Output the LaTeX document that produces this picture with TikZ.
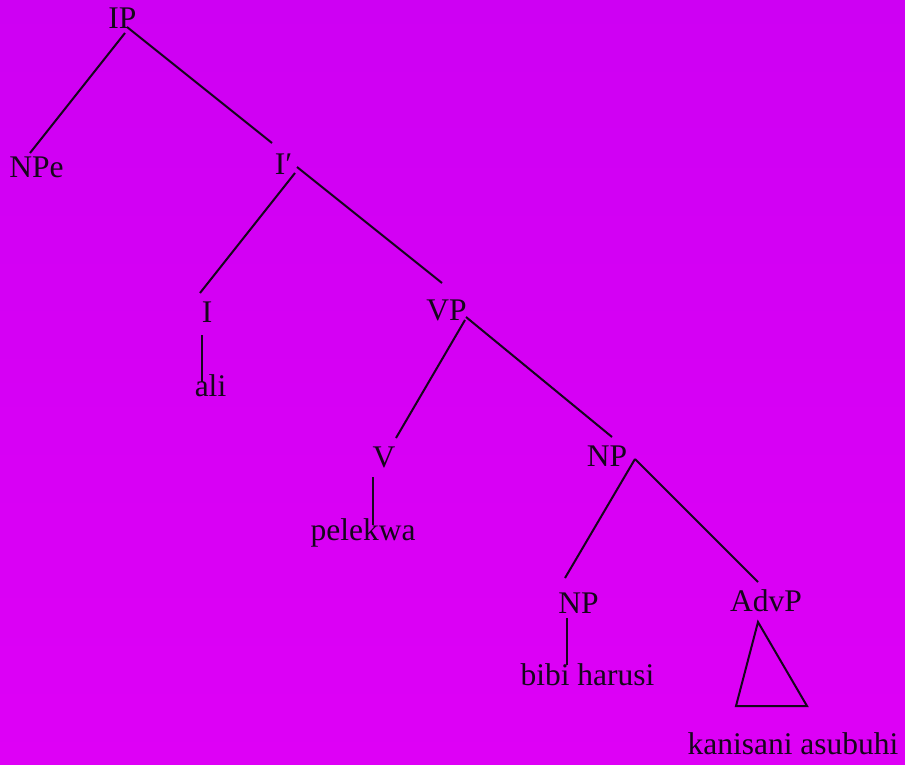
\documentclass[tikz,border=0pt]{standalone}
\usepackage{fontspec}
\setmainfont{Liberation Serif}
\usetikzlibrary{calc}
\definecolor{bgtop}{RGB}{206,0,243}
\definecolor{bgbot}{RGB}{222,0,246}
\definecolor{ink}{RGB}{22,6,28}
\begin{document}
\begin{tikzpicture}[x=1pt,y=-1pt,
  lbl/.style={anchor=base,inner sep=0pt,text=ink,font=\fontsize{31.5}{37}\selectfont},
  edge/.style={draw=ink,line width=2pt}]
\shade[top color=bgtop,bottom color=bgbot] (0,0) rectangle (905,765);
\useasboundingbox (0,0) rectangle (905,765);
\node[lbl] (ip) at (122.5,29) {IP};
\node[lbl] (npe) at (36.5,177) {NPe};
\node[lbl] (ibar) at (283.5,175) {I′};
\node[lbl] (i) at (207,322) {I};
\node[lbl] (ali) at (210.5,396) {ali};
\node[lbl] (vp) at (446.5,320) {VP};
\node[lbl] (v) at (384,467) {V};
\node[lbl] (pelekwa) at (363,540) {pelekwa};
\node[lbl] (np1) at (607,466) {NP};
\node[lbl] (np2) at (578.5,613) {NP};
\node[lbl] (bibi) at (587.5,685) {bibi harusi};
\node[lbl] (advp) at (766,611) {AdvP};
\node[lbl] (kan) at (793,754) {kanisani asubuhi};
\draw[edge] ($(ip.base)+(2.5,4)$) -- ($(npe.base)+(-6.5,-24)$);
\draw[edge] ($(ip.base)+(4.5,-2)$) -- ($(ibar.base)+(-11.5,-32)$);
\draw[edge] ($(ibar.base)+(11.5,-2)$) -- ($(i.base)+(-7,-29)$);
\draw[edge] ($(ibar.base)+(13.5,-8)$) -- ($(vp.base)+(-4.5,-37)$);
\draw[edge] ($(i.base)+(-5,13)$) -- ($(ali.base)+(-8.5,-14)$);
\draw[edge] ($(vp.base)+(18.5,0)$) -- ($(v.base)+(12,-29)$);
\draw[edge] ($(vp.base)+(19.5,-3)$) -- ($(np1.base)+(5,-29)$);
\draw[edge] ($(v.base)+(-11,10)$) -- ($(pelekwa.base)+(10,-15)$);
\draw[edge] ($(np1.base)+(28,-7)$) -- ($(np2.base)+(-13.5,-35)$);
\draw[edge] ($(np1.base)+(28,-7)$) -- ($(advp.base)+(-8,-29)$);
\draw[edge] ($(np2.base)+(-11.5,5)$) -- ($(bibi.base)+(-20.5,-20)$);
\draw[edge,line join=miter] ($(advp.base)+(-8,11)$) -- ($(advp.base)+(-30,95)$) -- ($(advp.base)+(41,95)$) -- cycle;
\end{tikzpicture}
\end{document}
